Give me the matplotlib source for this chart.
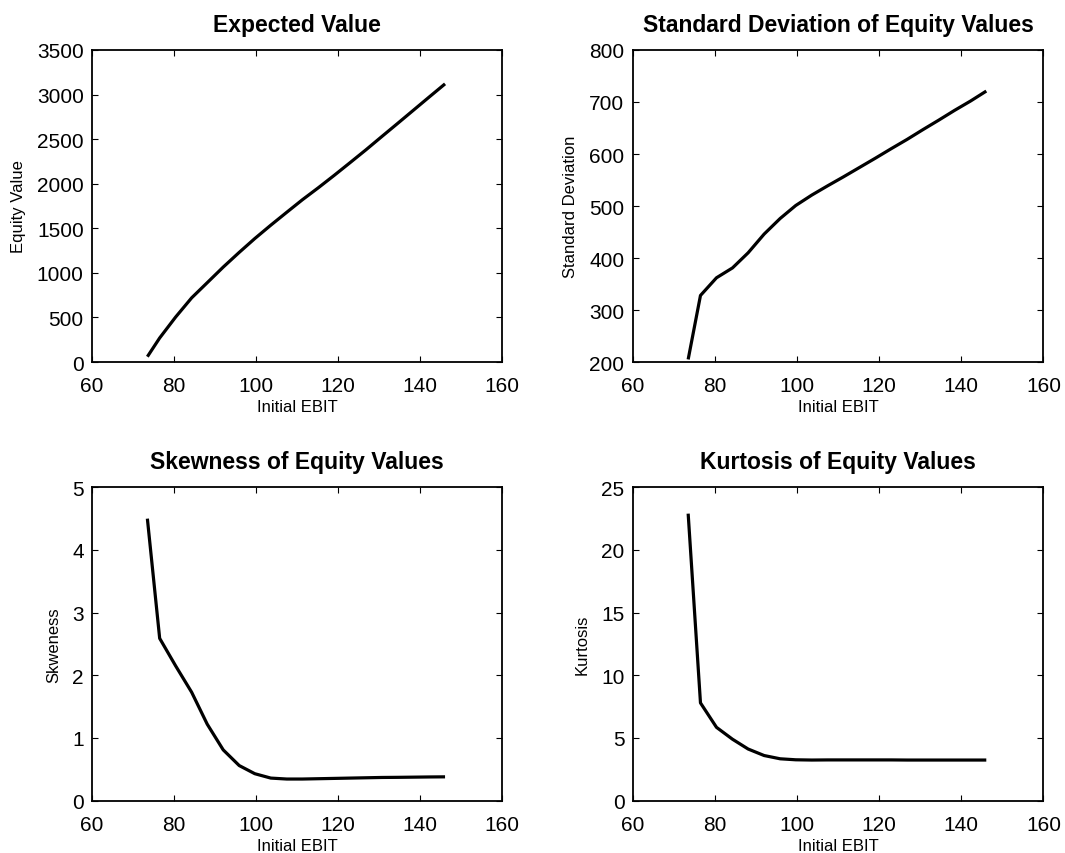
import matplotlib
matplotlib.use("Agg")
import matplotlib.pyplot as plt

plt.rcParams['font.family'] = ['Liberation Sans', 'DejaVu Sans']

# initial EBIT grid
ebit = [73.5, 76.5, 80.4, 84.3, 88.1, 92.0, 95.9, 99.7, 103.6, 107.5,
        111.3, 115.2, 119.1, 122.9, 126.8, 130.7, 134.5, 138.4, 142.3, 146.1]

# moments of equity value
mean_val = [60, 270, 505, 720, 890, 1065, 1230, 1385, 1535, 1680,
            1820, 1955, 2095, 2235, 2380, 2530, 2675, 2825, 2975, 3120]
std_val = [205, 328, 362, 381, 410, 446, 476, 501, 521, 539,
           556, 574, 592, 610, 628, 647, 665, 684, 702, 721]
skew_val = [4.50, 2.59, 2.15, 1.73, 1.22, 0.81, 0.56, 0.43, 0.36, 0.345,
            0.345, 0.35, 0.355, 0.36, 0.365, 0.37, 0.372, 0.375, 0.378, 0.38]
kurt_val = [22.9, 7.8, 5.85, 4.9, 4.12, 3.6, 3.34, 3.26, 3.24, 3.25,
            3.25, 3.25, 3.25, 3.25, 3.24, 3.24, 3.24, 3.24, 3.24, 3.24]

panels = [
    ("Expected Value", "Equity Value", mean_val, (0, 3500), range(0, 3501, 500)),
    ("Standard Deviation of Equity Values", "Standard Deviation", std_val, (200, 800), range(200, 801, 100)),
    ("Skewness of Equity Values", "Skweness", skew_val, (0, 5), range(0, 6)),
    ("Kurtosis of Equity Values", "Kurtosis", kurt_val, (0, 25), range(0, 26, 5)),
]

# axes boxes in figure fractions [left, bottom, width, height]
boxes = [
    [0.0864, 0.5749, 0.3850, 0.3654],
    [0.5941, 0.5749, 0.3856, 0.3654],
    [0.0864, 0.0613, 0.3850, 0.3669],
    [0.5941, 0.0613, 0.3856, 0.3669],
]

fig = plt.figure(figsize=(10.65, 8.54), dpi=100)

for (title, ylab, y, ylim, yticks), box in zip(panels, boxes):
    ax = fig.add_axes(box)
    ax.plot(ebit, y, color='k', lw=2.3, solid_capstyle='butt')
    ax.set_xlim(60, 160)
    ax.set_ylim(*ylim)
    ax.set_xticks(range(60, 161, 20))
    ax.set_yticks(list(yticks))
    ax.tick_params(direction='in', top=True, right=True, length=4, width=0.8,
                   labelsize=15)
    ax.tick_params(axis='x', pad=10)
    ax.tick_params(axis='y', pad=6)
    for s in ax.spines.values():
        s.set_linewidth(1.3)
    ax.set_title(title, fontsize=16.5, fontweight='bold', pad=14)
    ax.set_xlabel("Initial EBIT", fontsize=12, labelpad=3)
    ax.set_ylabel(ylab, fontsize=12, labelpad=8)

plt.savefig("out.png", dpi=100)
